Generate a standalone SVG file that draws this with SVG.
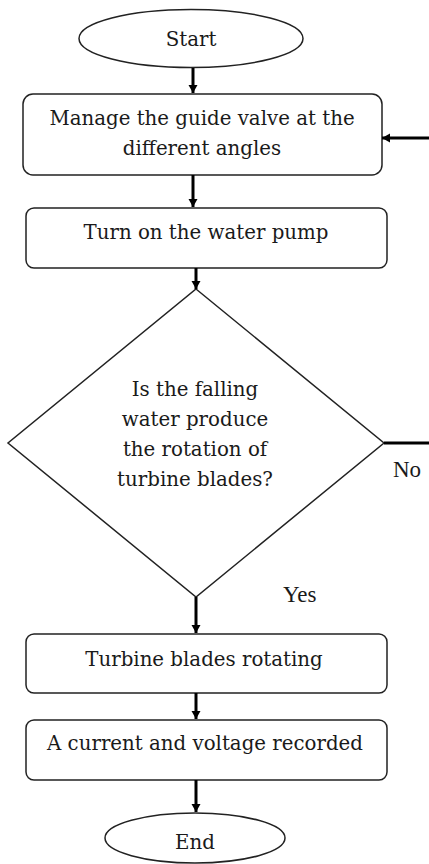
<svg xmlns="http://www.w3.org/2000/svg" width="429" height="864" viewBox="0 0 429 864">
<defs>
<marker id="ah" markerWidth="10" markerHeight="10" refX="8" refY="5" orient="auto" markerUnits="userSpaceOnUse">
<path d="M0,0.5 L8,5 L0,9.5 Z" fill="#000"/>
</marker>
<style>
.shape{fill:#fff;stroke:#222;stroke-width:1.5}
.t{font-family:"DejaVu Serif","Liberation Serif",serif;font-size:19.8px;fill:#1a1a1a;text-anchor:middle}
.lbl{font-family:"Liberation Serif",serif;font-size:23px;fill:#1a1a1a}
.c{fill:none;stroke:#000;stroke-width:3}
</style>
</defs>
<rect width="429" height="864" fill="#fff"/>
<g id="start">
<ellipse class="shape" cx="191" cy="38.5" rx="112" ry="29"/>
<text class="t" x="191" y="46">Start</text>
</g>
<g id="manage">
<rect class="shape" x="23" y="94" width="359" height="81" rx="10"/>
<text class="t" x="202" y="125">Manage the guide valve at the</text>
<text class="t" x="202" y="155">different angles</text>
</g>
<g id="pump">
<rect class="shape" x="26" y="208" width="361" height="60" rx="8"/>
<text class="t" x="206" y="239">Turn on the water pump</text>
</g>
<g id="decision">
<polygon class="shape" points="196,289 384,443 196,597 8,443"/>
<text class="t" x="195" y="396">Is the falling</text>
<text class="t" x="195" y="426">water produce</text>
<text class="t" x="195" y="456">the rotation of</text>
<text class="t" x="195" y="486">turbine blades?</text>
</g>
<g id="rotating">
<rect class="shape" x="26" y="634" width="361" height="59" rx="8"/>
<text class="t" x="204" y="666">Turbine blades rotating</text>
</g>
<g id="recorded">
<rect class="shape" x="26" y="720" width="361" height="60" rx="8"/>
<text class="t" x="205" y="750">A current and voltage recorded</text>
</g>
<g id="end">
<ellipse class="shape" cx="195" cy="838" rx="90" ry="25"/>
<text class="t" x="195" y="849">End</text>
</g>
<g id="connectors">
<line class="c" x1="193" y1="68" x2="193" y2="93" marker-end="url(#ah)"/>
<line class="c" x1="193" y1="175" x2="193" y2="207" marker-end="url(#ah)"/>
<line class="c" x1="196" y1="268" x2="196" y2="289" marker-end="url(#ah)"/>
<line class="c" x1="384" y1="443" x2="429" y2="443"/>
<line class="c" x1="429" y1="138" x2="382" y2="138" marker-end="url(#ah)"/>
<line class="c" x1="196" y1="597" x2="196" y2="633" marker-end="url(#ah)"/>
<line class="c" x1="196" y1="693" x2="196" y2="719" marker-end="url(#ah)"/>
<line class="c" x1="196" y1="780" x2="196" y2="812" marker-end="url(#ah)"/>
<text class="lbl" x="393" y="477">No</text>
<text class="lbl" x="283" y="602">Yes</text>
</g>
</svg>
